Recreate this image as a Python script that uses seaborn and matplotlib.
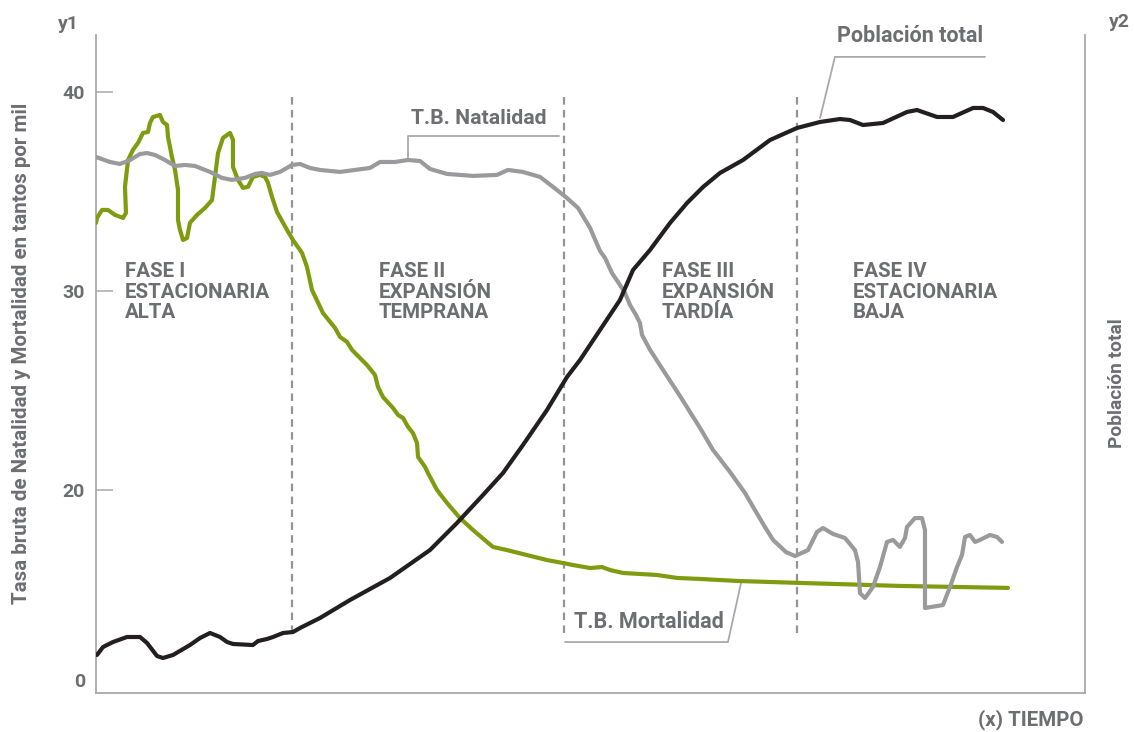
import matplotlib
matplotlib.use("Agg")
import matplotlib.pyplot as plt
import pandas as pd
import seaborn as sns

sns.set_style("white")
plt.rcParams['font.family'] = ['Roboto', 'DejaVu Sans']
plt.rcParams['font.weight'] = 'bold'

# ---------------- data ----------------
# T.B. Natalidad (por mil) vs tiempo
natalidad_t = [0.0, 1.42, 2.43, 3.44, 4.45, 5.16, 5.97, 6.98, 7.99, 9.0, 10.0, 11.53, 12.74,
               13.75, 15.07, 16.08, 16.78, 17.59, 18.6, 19.82, 20.63, 21.64, 22.65, 24.67,
               26.19, 27.7, 28.72, 30.23, 31.55, 32.76, 33.77, 35.49, 38.12, 40.54, 41.66,
               43.17, 44.89, 46.21, 47.62, 48.74, 49.95, 50.96, 51.47, 52.17, 52.98, 53.49,
               53.99, 54.6, 55.0, 55.21, 56.02, 57.53, 59.05, 61.07, 62.39, 64.11, 65.62,
               66.63, 67.64, 68.46, 69.77, 70.68, 71.99, 72.9, 73.51, 74.52, 75.73, 76.74,
               77.05, 77.25, 77.76, 78.56, 79.27, 79.98, 80.59, 81.29, 81.8, 82.0, 82.81,
               83.52, 83.82, 83.82, 85.64, 86.35, 87.06, 87.56, 87.87, 88.37, 88.88, 89.38,
               90.39, 91.1, 91.61]
natalidad = [36.73, 36.48, 36.38, 36.58, 36.88, 36.93, 36.83, 36.58, 36.28, 36.33, 36.28,
             35.98, 35.68, 35.58, 35.68, 35.88, 35.93, 35.83, 35.98, 36.33, 36.38, 36.18,
             36.08, 35.98, 36.08, 36.18, 36.48, 36.48, 36.58, 36.53, 36.13, 35.88, 35.78,
             35.83, 36.08, 35.98, 35.73, 35.23, 34.67, 34.17, 33.17, 32.01, 31.66, 30.9,
             30.3, 29.9, 29.3, 28.79, 28.39, 27.79, 27.04, 25.88, 24.72, 23.12, 22.01, 20.9,
             19.85, 18.99, 18.14, 17.49, 16.88, 16.68, 16.98, 17.89, 18.09, 17.79, 17.59,
             16.98, 16.38, 14.82, 14.57, 15.13, 16.13, 17.39, 17.49, 17.14, 17.59, 18.14,
             18.59, 18.59, 17.99, 14.07, 14.22, 15.13, 16.13, 16.73, 17.64, 17.74, 17.39,
             17.49, 17.74, 17.64, 17.39]

# T.B. Mortalidad (por mil) vs tiempo
mortalidad_t = [0.0, 0.1, 0.61, 1.21, 1.92, 2.73, 3.03, 2.93, 3.24, 3.74, 4.25, 4.75, 5.26,
                5.46, 5.76, 6.47, 6.77, 7.18, 7.28, 7.68, 7.99, 8.29, 8.29, 8.49, 8.8, 9.2,
                9.5, 10.21, 11.02, 11.73, 12.03, 12.34, 12.84, 13.55, 13.85, 13.85, 14.36,
                14.86, 15.37, 15.87, 16.58, 17.09, 17.39, 17.8, 18.3, 19.31, 19.92, 20.83,
                21.33, 21.84, 22.95, 24.17, 24.67, 25.38, 25.88, 27.4, 28.21, 28.51, 29.02,
                30.03, 30.54, 31.04, 31.55, 32.05, 32.46, 32.56, 33.27, 33.57, 34.48, 35.49,
                36.8, 38.12, 39.53, 40.14, 41.56, 43.58, 45.6, 47.22, 48.23, 49.95, 51.16,
                51.97, 53.29, 55.0, 56.72, 58.75, 61.07, 64.81, 71.18, 81.29, 92.21]
mortalidad = [33.42, 33.67, 34.07, 34.07, 33.82, 33.67, 33.92, 35.23, 36.58, 37.09, 37.44,
              37.94, 37.99, 38.44, 38.74, 38.84, 38.49, 38.34, 37.74, 36.73, 36.08, 35.08,
              33.57, 33.07, 32.56, 32.66, 33.42, 33.82, 34.17, 34.57, 35.73, 36.93, 37.69,
              37.94, 37.59, 36.23, 35.58, 35.18, 35.23, 35.73, 35.83, 35.73, 35.43, 34.72,
              33.97, 33.07, 32.56, 31.91, 31.21, 30.05, 28.89, 28.14, 27.69, 27.44, 27.04,
              26.28, 25.78, 25.18, 24.67, 24.12, 23.77, 23.62, 23.17, 22.86, 22.36, 21.66,
              21.16, 20.85, 20.0, 19.35, 18.59, 17.99, 17.39, 17.14, 16.98, 16.73, 16.48,
              16.33, 16.23, 16.08, 16.13, 15.98, 15.83, 15.78, 15.73, 15.58, 15.53, 15.43,
              15.33, 15.18, 15.08]

# Poblacion total (escala relativa 0-100, eje y2)
poblacion_t = [0.1, 0.71, 1.72, 3.13, 4.45, 5.16, 6.17, 6.77, 7.79, 9.5, 10.52, 11.53, 12.54,
               13.25, 13.85, 15.87, 16.38, 17.29, 17.9, 18.91, 19.92, 20.63, 22.65, 25.68,
               29.73, 33.77, 36.5, 39.13, 41.15, 43.17, 45.6, 47.62, 48.94, 50.96, 52.98,
               54.3, 56.02, 58.04, 59.76, 61.38, 63.09, 65.42, 68.15, 70.88, 73.21, 75.23,
               76.24, 77.55, 79.58, 82.0, 83.01, 85.04, 86.65, 88.68, 89.69, 90.7, 91.71]
poblacion = [5.78, 6.99, 7.75, 8.51, 8.51, 7.6, 5.62, 5.32, 5.78, 7.29, 8.36, 9.12, 8.51,
             7.75, 7.45, 7.29, 7.9, 8.21, 8.51, 9.12, 9.27, 9.88, 11.4, 14.13, 17.48, 21.73,
             25.84, 30.09, 33.43, 37.69, 43.01, 48.02, 50.61, 55.17, 59.73, 64.29, 67.33,
             71.43, 74.47, 76.9, 79.03, 81.0, 84.04, 85.87, 86.78, 87.23, 87.08, 86.32,
             86.63, 88.3, 88.6, 87.54, 87.54, 88.91, 88.91, 88.3, 87.08]

fase_limites = [19.82, 47.32, 70.88]
fase_textos = ["FASE I\nESTACIONARIA\nALTA", "FASE II\nEXPANSIÓN\nTEMPRANA",
               "FASE III\nEXPANSIÓN\nTARDÍA", "FASE IV\nESTACIONARIA\nBAJA"]
fase_x = [2.93, 28.6, 57.2, 76.5]
y_ticks = [20, 30, 40]
y_ticklabels = ["20", "30", "40"]

# ---------------- style ----------------
C_TEXT = "#6d6e71"
C_SPINE = "#a7a9ac"
C_GRAY = "#9a9a9d"
C_GREEN = "#7f9c10"
C_BLACK = "#231f20"
C_DASH = "#949497"

fig = plt.figure(figsize=(11.34, 7.32), dpi=100)
ax = fig.add_axes([96/1134, 1-693/732, (1085-96)/1134, (693-35)/732])
ax2 = ax.twinx()

df_n = pd.DataFrame({"t": natalidad_t, "v": natalidad})
df_m = pd.DataFrame({"t": mortalidad_t, "v": mortalidad})
df_p = pd.DataFrame({"t": poblacion_t, "v": poblacion})

sns.lineplot(data=df_m, x="t", y="v", sort=False, estimator=None, ax=ax,
             color=C_GREEN, lw=3.0, solid_capstyle="round", solid_joinstyle="round", zorder=3)
sns.lineplot(data=df_n, x="t", y="v", sort=False, estimator=None, ax=ax,
             color=C_GRAY, lw=3.0, solid_capstyle="round", solid_joinstyle="round", zorder=4)
sns.lineplot(data=df_p, x="t", y="v", sort=False, estimator=None, ax=ax2,
             color=C_BLACK, lw=3.0, solid_capstyle="round", solid_joinstyle="round", zorder=3)

ax.set_xlim(0, 100)
ax.set_ylim(9.80, 42.86)
ax2.set_ylim(0, 100)

# phase separators
ax.vlines(fase_limites, 12.8, 39.8, colors=C_DASH, lw=1.6,
          linestyles=(0, (3.4, 2.4)), zorder=1)

for xt, txt in zip(fase_x, fase_textos):
    ax.text(xt, 31.45, txt, ha="left", va="top", fontsize=14.8, color=C_TEXT,
            fontweight="bold", linespacing=1.1)

# annotations
ax.text(38.73, 38.64, "T.B. Natalidad", ha="center", va="center", fontsize=15.3,
        color=C_TEXT, fontweight="bold")
ax.plot([31.55, 31.55, 46.81], [36.58, 37.79, 37.79], color=C_SPINE, lw=1.3, zorder=2)

ax.text(55.91, 13.37, "T.B. Mortalidad", ha="center", va="center", fontsize=15.5,
        color=C_TEXT, fontweight="bold")
ax.plot([47.42, 63.9, 65.22], [12.36, 12.36, 15.33], color=C_SPINE, lw=1.3, zorder=2)

ax.text(82.3, 42.81, "Población total", ha="center", va="center", fontsize=15.5,
        color=C_TEXT, fontweight="bold", clip_on=False)
ax.plot([73.21, 74.72, 89.89], [38.69, 41.76, 41.76], color=C_SPINE, lw=1.3, zorder=2,
        clip_on=False)

# axes styling
for a in (ax, ax2):
    a.set_xlabel("")
    a.set_ylabel("")
    a.grid(False)
    a.set_facecolor("none")
for s in ax2.spines.values():
    s.set_visible(False)
ax.spines["top"].set_visible(False)
for s in ("left", "bottom", "right"):
    ax.spines[s].set_color(C_SPINE)
    ax.spines[s].set_linewidth(1.3)

ax.set_xticks([])
ax.set_yticks(y_ticks)
ax.set_yticklabels(y_ticklabels)
ax.tick_params(axis="y", direction="in", length=12.5, width=1.1, color=C_SPINE,
               labelsize=14, labelcolor=C_TEXT, pad=8, left=True)
for lab in ax.get_yticklabels():
    lab.set_fontweight("bold")
ax2.set_yticks([])

fig.text(85/1134, 1-682/732, "0", ha="right", va="center", fontsize=14,
         color=C_TEXT, fontweight="bold")
fig.text(68/1134, 1-24/732, "y1", ha="center", va="center", fontsize=14,
         color=C_TEXT, fontweight="bold")
fig.text(1119/1134, 1-22/732, "y2", ha="center", va="center", fontsize=14,
         color=C_TEXT, fontweight="bold")
fig.text(1083/1134, 1-720/732, "(x) TIEMPO", ha="right", va="center", fontsize=14.8,
         color=C_TEXT, fontweight="bold")
fig.text(22/1134, 1-353/732, "Tasa bruta de Natalidad y Mortalidad en tantos por mil",
         rotation=90, ha="center", va="center", fontsize=14.8, color=C_TEXT,
         fontweight="bold")
fig.text(1117/1134, 1-383/732, "Población total", rotation=90, ha="center",
         va="center", fontsize=13.8, color=C_TEXT, fontweight="bold")

fig.savefig("out.png", dpi=100)
